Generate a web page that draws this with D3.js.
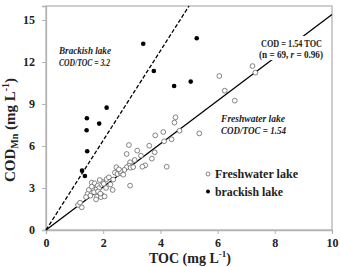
<!DOCTYPE html>
<html>
<head>
<meta charset="utf-8">
<script src="https://cdn.jsdelivr.net/npm/d3@7"></script>
<style>
body{margin:0;background:#fff;}
text{font-family:"Liberation Serif","Times New Roman",serif;}
.note{font-family:Lato,"Open Sans",sans-serif;font-weight:700;font-size:9.5px;}
</style>
</head>
<body>
<div id="chart"></div>
<script>
// freshwater lakes: [TOC, COD]
const freshTOC=[7.22,7.32,6.06,6.25,6.6,5.36,4.53,4.49,4.67,4.1,3.82,4.39,4.13,3.61,2.9,3.19,3.8,3.32,3.7,2.82,
  3.47,3.37,4.22,2.94,2.9,2.82,2.96,2.74,2.46,2.41,2.5,2.62,2.94,2.33,2.12,2.2,1.96,2.02,1.88,1.6,
  1.7,1.8,1.85,1.72,1.62,1.5,1.68,1.82,1.95,1.78,1.75,1.92,1.45,1.55,1.4,1.25,1.12,1.19,2.05,2.1,
  2.25,2.6,3.05,2.7,1.6,1.9,3.1,2.35,2.55];
const freshCOD=[11.71,11.24,11.0,9.95,9.24,6.9,8.05,7.67,7.09,7.0,6.76,6.48,6.34,6.02,6.07,5.67,5.55,5.31,5.1,5.43,
  4.62,4.52,4.52,4.84,4.6,4.48,4.45,4.29,4.48,4.1,4.0,4.05,3.17,2.86,3.64,3.76,3.45,3.3,3.57,3.38,
  3.33,3.15,2.98,2.9,2.95,2.86,2.7,2.75,2.5,2.38,2.19,2.35,2.57,2.45,2.35,1.62,1.79,1.95,2.4,3.0,
  3.25,4.2,4.5,3.95,3.1,2.6,5.0,3.6,4.33];
// brackish lakes
const brackTOC=[3.4,3.77,2.12,1.43,1.86,1.42,1.44,1.26,1.36,5.27,4.48,5.06];
const brackCOD=[13.3,11.36,8.74,7.98,7.6,7.12,5.62,4.24,3.86,13.7,10.29,10.6];
const xTicks=[0,2,4,6,8,10];
const yTicks=[0,3,6,9,12,15];
const freshSlope=1.54, brackSlope=3.2;

const W=340,H=267;
const svg=d3.select("#chart").append("svg").attr("width",W).attr("height",H);
const x=d3.scaleLinear().domain([0,10]).range([46,332]);
const y=d3.scaleLinear().domain([0,16]).range([230,6]);

// frame
svg.append("rect")
  .attr("x",x(0)).attr("y",y(16))
  .attr("width",x(10)-x(0)).attr("height",y(0)-y(16))
  .attr("fill","none").attr("stroke","#b4b4b4").attr("stroke-width",1.3);

const xAxis=svg.append("g").attr("transform",`translate(0,${y(0)})`)
  .call(d3.axisBottom(x).tickValues(xTicks).tickSize(4).tickPadding(4));
const yAxis=svg.append("g").attr("transform",`translate(${x(0)},0)`)
  .call(d3.axisLeft(y).tickValues(yTicks).tickSize(4).tickPadding(7));
[xAxis,yAxis].forEach(g=>{
  g.select(".domain").attr("stroke","#b4b4b4").attr("stroke-width",1.3);
  g.selectAll(".tick line").attr("stroke","#b4b4b4");
  g.selectAll(".tick text").attr("font-family","Liberation Serif, serif")
    .attr("font-weight","bold").attr("font-size",12).attr("fill","#222");
});

// regression lines
svg.append("line")
  .attr("x1",x(0)).attr("y1",y(0)).attr("x2",x(10)).attr("y2",y(10*freshSlope))
  .attr("stroke","#000").attr("stroke-width",1.3);
svg.append("line")
  .attr("x1",x(0)).attr("y1",y(0)).attr("x2",x(16/brackSlope)).attr("y2",y(16))
  .attr("stroke","#000").attr("stroke-width",1.3).attr("stroke-dasharray","4,2");

// points
svg.append("g").selectAll("circle").data(d3.range(freshTOC.length)).join("circle")
  .attr("cx",i=>x(freshTOC[i])).attr("cy",i=>y(freshCOD[i])).attr("r",2.4)
  .attr("fill","#fff").attr("stroke","#666").attr("stroke-width",0.8);
svg.append("g").selectAll("circle").data(d3.range(brackTOC.length)).join("circle")
  .attr("cx",i=>x(brackTOC[i])).attr("cy",i=>y(brackCOD[i])).attr("r",2.3)
  .attr("fill","#000");

// annotations
function note(g,tx,ty,len,str,italic){
  const t=g.append("text").attr("x",tx).attr("y",ty)
    .attr("textLength",len).attr("lengthAdjust","spacingAndGlyphs");
  if(italic) t.attr("font-style","italic");
  return t.text(str);
}
svg.append("rect").attr("x",256).attr("y",36).attr("width",70).attr("height",24).attr("fill","#fff");
const eq=svg.append("g").attr("class","note").attr("fill","#222");
note(eq,261,46.5,61,"COD = 1.54 TOC",false);
const t2=eq.append("text").attr("x",259).attr("y",57.5)
  .attr("textLength",64).attr("lengthAdjust","spacingAndGlyphs");
t2.append("tspan").text("(n = 69, ");
t2.append("tspan").attr("font-style","italic").text("r");
t2.append("tspan").text(" = 0.96)");

const bn=svg.append("g").attr("class","note").attr("fill","#222");
note(bn,59,53.5,52,"Brackish lake",true);
note(bn,59,66,51,"COD/TOC = 3.2",true);
note(bn,221,121.5,64,"Freshwater lake",true);
note(bn,221,133.5,65,"COD/TOC = 1.54",true);

// legend
const leg=svg.append("g");
leg.append("circle").attr("cx",208).attr("cy",174).attr("r",2).attr("fill","#fff").attr("stroke","#666").attr("stroke-width",0.8);
leg.append("circle").attr("cx",208).attr("cy",191.5).attr("r",2).attr("fill","#000");
leg.append("text").attr("x",215).attr("y",178).attr("font-weight","bold").attr("font-size",12.5).attr("fill","#222")
  .attr("textLength",83).attr("lengthAdjust","spacingAndGlyphs").text("Freshwater lake");
leg.append("text").attr("x",215).attr("y",195.5).attr("font-weight","bold").attr("font-size",12.5).attr("fill","#222")
  .attr("textLength",68).attr("lengthAdjust","spacingAndGlyphs").text("brackish lake");

// axis titles
const xl=svg.append("text").attr("x",190).attr("y",262.5).attr("text-anchor","middle")
  .attr("font-weight","bold").attr("font-size",14).attr("fill","#222");
xl.append("tspan").text("TOC (mg L");
xl.append("tspan").attr("font-size",9).attr("dy",-6).text("-1");
xl.append("tspan").attr("dy",6).text(")");

const yl=svg.append("text").attr("transform","translate(15,130) rotate(-90)").attr("text-anchor","middle")
  .attr("font-weight","bold").attr("font-size",15).attr("fill","#222");
yl.append("tspan").text("COD");
yl.append("tspan").attr("font-size",10).attr("dy",3).text("Mn");
yl.append("tspan").attr("dy",-3).text(" (mg L");
yl.append("tspan").attr("font-size",10).attr("dy",-6).text("-1");
yl.append("tspan").attr("dy",6).text(")");
</script>
</body>
</html>
